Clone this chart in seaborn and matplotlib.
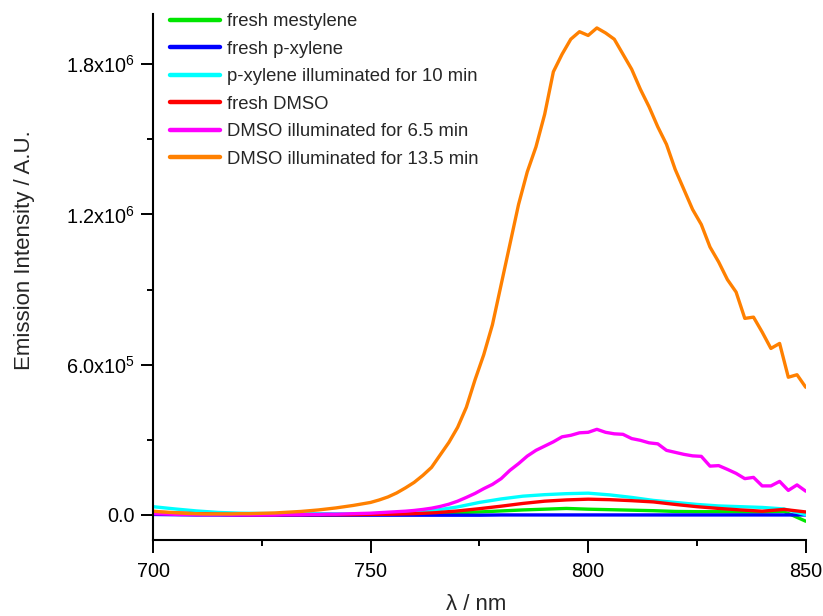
import numpy as np
import pandas as pd
import matplotlib
matplotlib.use("Agg")
import matplotlib.pyplot as plt
from matplotlib.ticker import FixedLocator, MultipleLocator
import seaborn as sns

# Wavelength grids (nm)
wl_fine = list(range(700, 851, 2))
wl_coarse = list(range(700, 851, 5))

labels = [
    "fresh mestylene",
    "fresh p-xylene",
    "p-xylene illuminated for 10 min",
    "fresh DMSO",
    "DMSO illuminated for 6.5 min",
    "DMSO illuminated for 13.5 min",
]
colors = ["#00E600", "#0000FF", "#00FFFF", "#FF0000", "#FF00FF", "#FF8000"]

fresh_mesitylene = [
    8e3, 5e3, 3e3, 2e3, 1e3, 1e3, 1e3, 1e3, 1e3, 1e3, 2e3, 3e3, 4e3, 6e3, 9e3,
    1.2e4, 1.6e4, 2.0e4, 2.3e4, 2.6e4, 2.3e4, 2.1e4, 1.9e4, 1.7e4, 1.4e4, 1.3e4,
    1.3e4, 1.2e4, 1.2e4, 1.4e4, -2.5e4,
]
fresh_pxylene = [
    2e3, 1e3, 0, 0, -1e3, -1e3, -1e3, -1e3, -1e3, -1e3, -1e3, -1e3, -1e3, -1e3,
    -1e3, -1e3, 0, 0, 0, 0, 0, 0, 0, 0, 0, 0, 0, 0, 0, 0, 0,
]
pxylene_10min = [
    3.3e4, 2.4e4, 1.6e4, 1.0e4, 7e3, 6e3, 5e3, 5e3, 5e3, 4e3, 5e3, 7e3, 1.1e4,
    1.9e4, 3.2e4, 5.0e4, 6.4e4, 7.5e4, 8.1e4, 8.5e4, 8.7e4, 8.0e4, 7.0e4, 5.8e4,
    5.0e4, 4.2e4, 3.6e4, 3.3e4, 3.0e4, 2.4e4, 1.0e3,
]
fresh_dmso = [
    1.2e4, 8e3, 5e3, 3e3, 2e3, 1e3, 1e3, 1e3, 1e3, 1e3, 2e3, 3e3, 5e3, 9e3,
    1.6e4, 2.5e4, 3.5e4, 4.6e4, 5.5e4, 6.0e4, 6.3e4, 6.1e4, 5.7e4, 5.2e4, 4.2e4,
    3.3e4, 2.6e4, 2.0e4, 1.5e4, 2.2e4, 1.2e4,
]
dmso_6_5min = [
    5e3, 4e3, 3e3, 2e3, 2e3, 1e3, 1e3, 1e3, 1e3, 0, 0, 0, 0, 0, 0, 1e3, 1e3, 1e3,
    2e3, 2e3, 3e3, 3e3, 4e3, 5e3, 6e3, 7e3, 9e3, 1.1e4, 1.3e4, 1.5e4, 1.8e4,
    2.2e4, 2.7e4, 3.4e4, 4.3e4, 5.5e4, 7.0e4, 8.6e4, 1.05e5, 1.22e5, 1.45e5,
    1.78e5, 2.05e5, 2.35e5, 2.58e5, 2.75e5, 2.92e5, 3.12e5, 3.18e5, 3.28e5,
    3.30e5, 3.42e5, 3.30e5, 3.24e5, 3.22e5, 3.05e5, 2.98e5, 2.88e5, 2.84e5,
    2.58e5, 2.50e5, 2.42e5, 2.36e5, 2.34e5, 1.95e5, 1.97e5, 1.82e5, 1.66e5,
    1.45e5, 1.50e5, 1.16e5, 1.16e5, 1.34e5, 9.8e4, 1.20e5, 9.5e4,
]
dmso_13_5min = [
    1.5e4, 1.2e4, 1.0e4, 8e3, 6e3, 5e3, 4e3, 4e3, 4e3, 4e3, 5e3, 5e3, 6e3, 7e3,
    8e3, 1.0e4, 1.2e4, 1.4e4, 1.7e4, 2.0e4, 2.4e4, 2.8e4, 3.3e4, 3.8e4, 4.4e4,
    5.0e4, 6.0e4, 7.2e4, 8.8e4, 1.08e5, 1.30e5, 1.58e5, 1.90e5, 2.40e5, 2.90e5,
    3.50e5, 4.30e5, 5.40e5, 6.40e5, 7.60e5, 9.20e5, 1.08e6, 1.24e6, 1.37e6,
    1.47e6, 1.60e6, 1.77e6, 1.84e6, 1.90e6, 1.93e6, 1.915e6, 1.945e6, 1.925e6,
    1.90e6, 1.84e6, 1.78e6, 1.70e6, 1.63e6, 1.55e6, 1.48e6, 1.38e6, 1.30e6,
    1.22e6, 1.16e6, 1.07e6, 1.01e6, 9.4e5, 8.9e5, 7.85e5, 7.9e5, 7.3e5, 6.65e5,
    6.85e5, 5.5e5, 5.6e5, 5.1e5,
]

y_ticks = [0, 6e5, 1.2e6, 1.8e6]
y_tick_labels = ["0.0", "6.0x10$^{5}$", "1.2x10$^{6}$", "1.8x10$^{6}$"]
x_ticks = [700, 750, 800, 850]

series = [
    (wl_coarse, fresh_mesitylene),
    (wl_coarse, fresh_pxylene),
    (wl_coarse, pxylene_10min),
    (wl_coarse, fresh_dmso),
    (wl_fine, dmso_6_5min),
    (wl_fine, dmso_13_5min),
]
frames = []
for name, (wl, vals) in zip(labels, series):
    frames.append(pd.DataFrame({"wavelength": wl, "intensity": vals, "sample": name}))
df = pd.concat(frames, ignore_index=True)

sns.set_theme(style="ticks")
plt.rcParams["font.family"] = ["Liberation Sans", "DejaVu Sans"]
plt.rcParams["mathtext.fontset"] = "custom"
plt.rcParams["mathtext.rm"] = "Liberation Sans"
plt.rcParams["mathtext.it"] = "Liberation Sans:italic"
plt.rcParams["mathtext.bf"] = "Liberation Sans:bold"

fig = plt.figure(figsize=(8.23, 6.16), dpi=100)
ax = fig.add_axes([0.186, 0.1234, 0.793, 0.8536])

sns.lineplot(
    data=df, x="wavelength", y="intensity", hue="sample",
    hue_order=labels, palette=dict(zip(labels, colors)),
    estimator=None, sort=False, linewidth=2.4, ax=ax,
)

ax.set_xlim(700, 850)
ax.set_ylim(-1.0e5, 2.0e6)
ax.xaxis.set_major_locator(FixedLocator(x_ticks))
ax.xaxis.set_minor_locator(MultipleLocator(25))
ax.yaxis.set_major_locator(FixedLocator(y_ticks))
ax.yaxis.set_minor_locator(MultipleLocator(3e5))
ax.set_yticklabels(y_tick_labels)

ax.tick_params(which="major", direction="out", length=9, width=1.4,
               labelsize=14.3, color="black", labelcolor="black")
ax.tick_params(axis="x", which="major", pad=7)
ax.tick_params(axis="y", which="major", pad=4)
ax.tick_params(which="minor", direction="out", length=4, width=1.4, color="black")
for side in ("top", "right"):
    ax.spines[side].set_visible(False)
for side in ("left", "bottom"):
    ax.spines[side].set_linewidth(1.5)
    ax.spines[side].set_color("black")

ax.set_xlabel("λ / nm", fontsize=16)
ax.set_ylabel("Emission Intensity / A.U.", fontsize=16)
ax.xaxis.set_label_coords(0.495, -0.102)
ax.yaxis.set_label_coords(-0.181, 0.551)

leg = ax.legend(
    loc="upper left", bbox_to_anchor=(0.015, 1.016), frameon=False,
    fontsize=13.3, handlelength=2.7, handletextpad=0.36, labelspacing=0.57,
    borderaxespad=0.0,
)
for line in leg.get_lines():
    line.set_linewidth(3.2)

fig.savefig("out.png", dpi=100)
